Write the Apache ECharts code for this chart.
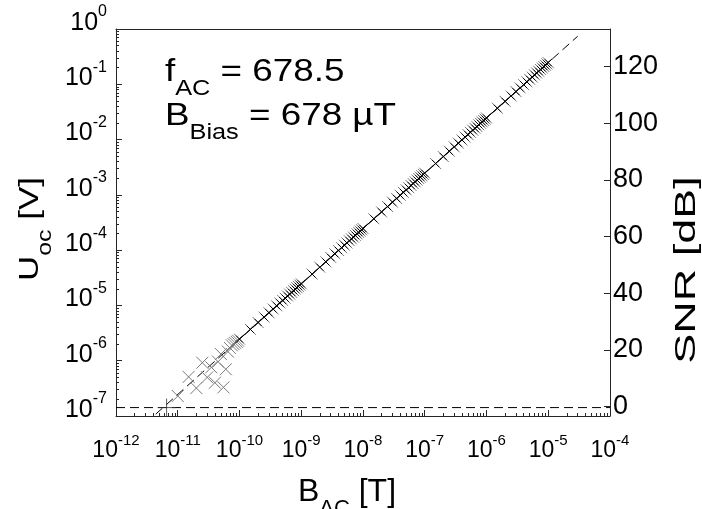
<!DOCTYPE html>
<html><head><meta charset="utf-8">
<script src="https://cdn.jsdelivr.net/npm/echarts@6/dist/echarts.min.js"></script>
<style>html,body{margin:0;padding:0;background:#fff}#c{width:702px;height:509px}</style>
</head><body><div id="c"></div>
<script>
// ---- tick labels ----
const xTickExp = ['-12','-11','-10','-9','-8','-7','-6','-5','-4'];
const yTickExp = ['-7','-6','-5','-4','-3','-2','-1','0'];
const snrTicks = [0, 20, 40, 60, 80, 100, 120];

// ---- measured data: low-amplitude (noisy) decade ----
const bLow = [1e-11,1.5e-11,2e-11,2.5e-11,3e-11,3.5e-11,4e-11,4.5e-11,5e-11,5.5e-11,6e-11,6.5e-11,7e-11,7.5e-11,8e-11,8.5e-11,9e-11,9.5e-11];
const uLow = [2.3e-7,5.1e-7,3.2e-7,9.2e-7,5.0e-7,7.6e-7,4.0e-7,9.6e-7,1.32e-6,3.3e-7,7.0e-7,1.46e-6,1.7e-6,1.9e-6,2.0e-6,2.1e-6,2.2e-6,2.3e-6];

// ---- measured data: linear range ----
const bHigh = [
 1e-10,1.5e-10,2e-10,2.5e-10,3e-10,3.5e-10,4e-10,4.5e-10,5e-10,5.5e-10,6e-10,6.5e-10,7e-10,7.5e-10,8e-10,8.5e-10,9e-10,9.5e-10,
 1e-9,1.5e-9,2e-9,2.5e-9,3e-9,3.5e-9,4e-9,4.5e-9,5e-9,5.5e-9,6e-9,6.5e-9,7e-9,7.5e-9,8e-9,8.5e-9,9e-9,9.5e-9,
 1e-8,1.5e-8,2e-8,2.5e-8,3e-8,3.5e-8,4e-8,4.5e-8,5e-8,5.5e-8,6e-8,6.5e-8,7e-8,7.5e-8,8e-8,8.5e-8,9e-8,9.5e-8,
 1e-7,1.5e-7,2e-7,2.5e-7,3e-7,3.5e-7,4e-7,4.5e-7,5e-7,5.5e-7,6e-7,6.5e-7,7e-7,7.5e-7,8e-7,8.5e-7,9e-7,9.5e-7,
 1e-6,1.5e-6,2e-6,2.5e-6,3e-6,3.5e-6,4e-6,4.5e-6,5e-6,5.5e-6,6e-6,6.5e-6,7e-6,7.5e-6,8e-6,8.5e-6,9e-6,9.5e-6,
 1e-5
];
const uHigh = [
 2.46e-6,3.69e-6,4.92e-6,6.15e-6,7.38e-6,8.61e-6,9.84e-6,1.11e-5,1.23e-5,1.35e-5,1.48e-5,1.60e-5,1.72e-5,1.85e-5,1.97e-5,2.09e-5,2.21e-5,2.34e-5,
 2.46e-5,3.69e-5,4.92e-5,6.15e-5,7.38e-5,8.61e-5,9.84e-5,1.11e-4,1.23e-4,1.35e-4,1.48e-4,1.60e-4,1.72e-4,1.85e-4,1.97e-4,2.09e-4,2.21e-4,2.34e-4,
 2.46e-4,3.69e-4,4.92e-4,6.15e-4,7.38e-4,8.61e-4,9.84e-4,1.11e-3,1.23e-3,1.35e-3,1.48e-3,1.60e-3,1.72e-3,1.85e-3,1.97e-3,2.09e-3,2.21e-3,2.34e-3,
 2.46e-3,3.69e-3,4.92e-3,6.15e-3,7.38e-3,8.61e-3,9.84e-3,1.11e-2,1.23e-2,1.35e-2,1.48e-2,1.60e-2,1.72e-2,1.85e-2,1.97e-2,2.09e-2,2.21e-2,2.34e-2,
 2.46e-2,3.69e-2,4.92e-2,6.15e-2,7.38e-2,8.61e-2,9.84e-2,1.11e-1,1.23e-1,1.35e-1,1.48e-1,1.60e-1,1.72e-1,1.85e-1,1.97e-1,2.09e-1,2.21e-1,2.34e-1,
 2.46e-1
];

// ---- fit line, noise floor (SNR = 0 dB) and detection limit ----
const fitB = [4.4e-12, 3e-5];
const fitU = [1.08e-7, 0.74];
const floorB = [1e-12, 1e-4];
const floorU = [1.42e-7, 1.42e-7];
const limitB = [6.6e-12];
const limitU = [1.42e-7];

// ---- minor (2..9) log tick positions ----
const mant = [2,3,4,5,6,7,8,9];
const xMinor = [], yMinor = [];
for (let d = -12; d < -4; d++) mant.forEach(m => xMinor.push(m * Math.pow(10, d)));
for (let d = -7; d < 0; d++) mant.forEach(m => yMinor.push(m * Math.pow(10, d)));

const zip = (a, b) => a.map((v, i) => [v, b[i]]);
const FONT = '"Liberation Sans", Arial, sans-serif';
const AX = '#262626';
const X_PATH = 'path://M0 0L10 10M10 0L0 10';
const PLUS_PATH = 'path://M5 0L5 10M0 5L10 5';

function logFmt(exps) {
  return v => {
    const e = Math.round(Math.log10(v));
    const lbl = exps.find(s => Number(s) === e);
    return '{b|10}{e|' + lbl + '}';
  };
}

const chart = echarts.init(document.getElementById('c'));
const baseX = { type: 'log', logBase: 10, min: 1e-12, max: 1e-4, splitLine: { show: false } };
const baseY = { type: 'log', logBase: 10, min: 1e-7, max: 1, splitLine: { show: false } };

chart.setOption({
  animation: false,
  backgroundColor: '#fff',
  grid: { left: 116, right: 92, top: 29, bottom: 93 },
  xAxis: [
    Object.assign({}, baseX, {
      position: 'bottom', interval: 1,
      axisLine: { show: true, onZero: false, lineStyle: { color: AX, width: 1 } },
      axisTick: { show: true, inside: true, length: 6, lineStyle: { color: AX } },
      axisLabel: {
        margin: 17, formatter: logFmt(xTickExp),
        rich: {
          b: { fontSize: 23, fontFamily: FONT, color: '#000' },
          e: { fontSize: 15, fontFamily: FONT, color: '#000', padding: [0, 0, 20, 0] }
        }
      }
    }),
    Object.assign({}, baseX, {
      position: 'bottom',
      axisLine: { show: false, onZero: false },
      axisTick: { show: true, inside: true, length: 3, customValues: xMinor, lineStyle: { color: AX } },
      axisLabel: { show: false }
    }),
    Object.assign({}, baseX, {
      position: 'top',
      axisLine: { show: true, onZero: false, lineStyle: { color: AX, width: 1 } },
      axisTick: { show: false }, axisLabel: { show: false }
    })
  ],
  yAxis: [
    Object.assign({}, baseY, {
      position: 'left', interval: 1,
      axisLine: { show: true, onZero: false, lineStyle: { color: AX, width: 1 } },
      axisTick: { show: true, inside: true, length: 6, lineStyle: { color: AX } },
      axisLabel: {
        margin: 9, padding: [0, 0, 12, 0], formatter: logFmt(yTickExp),
        rich: {
          b: { fontSize: 25, fontFamily: FONT, color: '#000' },
          e: { fontSize: 16, fontFamily: FONT, color: '#000', padding: [0, 0, 22, 0] }
        }
      }
    }),
    Object.assign({}, baseY, {
      position: 'left',
      axisLine: { show: false, onZero: false },
      axisTick: { show: true, inside: true, length: 3, customValues: yMinor, lineStyle: { color: AX } },
      axisLabel: { show: false }
    }),
    {
      type: 'value', position: 'right', min: -3.3, max: 133.2,
      splitLine: { show: false },
      axisLine: { show: true, onZero: false, lineStyle: { color: AX, width: 1 } },
      axisTick: { show: true, inside: true, length: 6, customValues: snrTicks, lineStyle: { color: AX } },
      axisLabel: { customValues: snrTicks, margin: 3, fontSize: 27, fontFamily: FONT, color: '#000' }
    }
  ],
  series: [
    {
      type: 'line', name: 'noise floor', xAxisIndex: 0, yAxisIndex: 0,
      data: zip(floorB, floorU), symbol: 'none',
      lineStyle: { color: '#000', width: 1, type: [9, 5] }, z: 2
    },
    {
      type: 'line', name: 'fit', xAxisIndex: 0, yAxisIndex: 0,
      data: zip(fitB, fitU), symbol: 'none',
      lineStyle: { color: '#000', width: 1, type: [9, 5] }, z: 2
    },
    {
      type: 'scatter', name: 'low', xAxisIndex: 0, yAxisIndex: 0,
      data: zip(bLow, uLow), symbol: X_PATH, symbolSize: 12,
      itemStyle: { color: 'rgba(0,0,0,0)', borderColor: '#7a7a7a', borderWidth: 1, opacity: 1 }, z: 3
    },
    {
      type: 'scatter', name: 'gray', xAxisIndex: 0, yAxisIndex: 0,
      data: zip(bHigh, uHigh), symbol: X_PATH, symbolSize: 11,
      itemStyle: { color: 'rgba(0,0,0,0)', borderColor: '#7a7a7a', borderWidth: 1, opacity: 1 }, z: 3
    },
    {
      type: 'line', name: 'black', xAxisIndex: 0, yAxisIndex: 0,
      data: zip(bHigh, uHigh), symbol: X_PATH, symbolSize: 7, showSymbol: true,
      itemStyle: { color: 'rgba(0,0,0,0)', borderColor: '#000', borderWidth: 1 },
      lineStyle: { color: '#000', width: 1 }, z: 4
    },
    {
      type: 'scatter', name: 'limit', xAxisIndex: 0, yAxisIndex: 0,
      data: zip(limitB, limitU), symbol: PLUS_PATH, symbolSize: 18,
      itemStyle: { color: 'rgba(0,0,0,0)', borderColor: '#333', borderWidth: 1 }, z: 4
    }
  ],
  graphic: [
    {
      type: 'text', x: 165, y: 72, scaleX: 1.15,
      style: {
        text: '{m|f}{s|AC}{m| = 678.5}', verticalAlign: 'middle', fill: '#000',
        rich: {
          m: { fontSize: 32, fontFamily: FONT },
          s: { fontSize: 22, fontFamily: FONT, padding: [34, 0, 0, 0] }
        }
      }
    },
    {
      type: 'text', x: 165, y: 116, scaleX: 1.15,
      style: {
        text: '{m|B}{s|Bias}{m| = 678 µT}', verticalAlign: 'middle', fill: '#000',
        rich: {
          m: { fontSize: 32, fontFamily: FONT },
          s: { fontSize: 22, fontFamily: FONT, padding: [34, 0, 0, 0] }
        }
      }
    },
    {
      type: 'text', x: 30, y: 229, rotation: Math.PI / 2, scaleX: 1.25,
      style: {
        text: '{m|U}{s|oc}{m| [V]}', align: 'center', verticalAlign: 'middle', fill: '#000',
        rich: {
          m: { fontSize: 28, fontFamily: FONT },
          s: { fontSize: 20, fontFamily: FONT, padding: [30, 0, 0, 0] }
        }
      }
    },
    {
      type: 'text', x: 687, y: 270, rotation: Math.PI / 2, scaleX: 1.55,
      style: {
        text: 'SNR [dB]', align: 'center', verticalAlign: 'middle', fill: '#000',
        fontSize: 29, fontFamily: FONT
      }
    },
    {
      type: 'text', x: 347, y: 492,
      style: {
        text: '{m|B}{s|AC}{m| [T]}', align: 'center', verticalAlign: 'middle', fill: '#000',
        rich: {
          m: { fontSize: 32, fontFamily: FONT },
          s: { fontSize: 22, fontFamily: FONT, padding: [34, 0, 0, 0] }
        }
      }
    }
  ]
});
</script>
</body></html>
